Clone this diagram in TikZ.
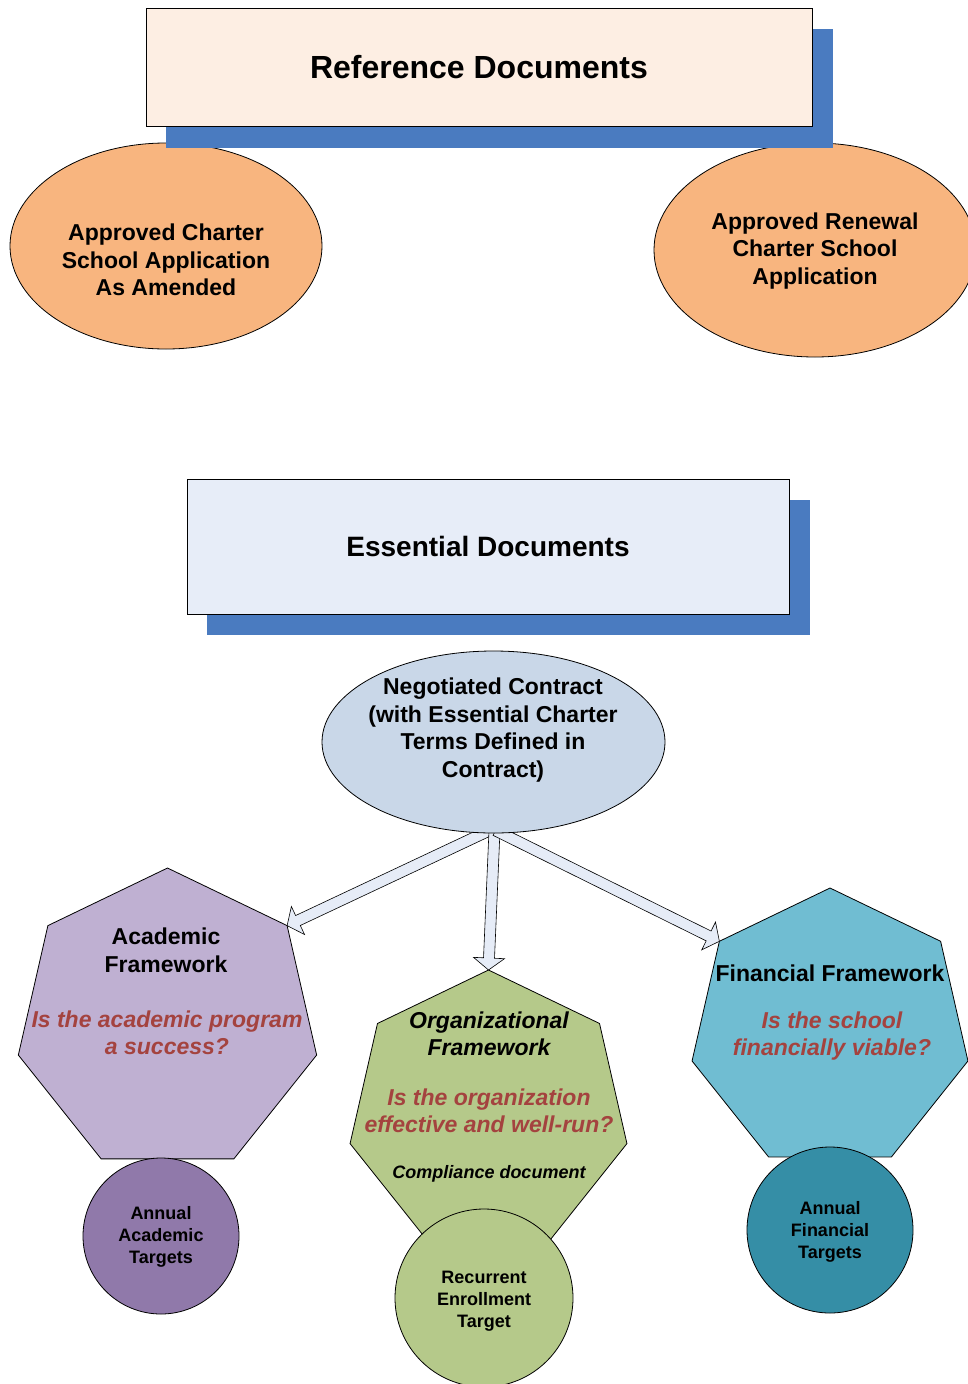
\documentclass[tikz,border=0pt]{standalone}
\usepackage{fontspec}
\setmainfont{Liberation Sans}
\usetikzlibrary{calc,shapes.geometric}
\definecolor{peach}{HTML}{FDEEE3}
\definecolor{shadowblue}{HTML}{4A7BC0}
\definecolor{orangefill}{HTML}{F8B57F}
\definecolor{essfill}{HTML}{E7EDF8}
\definecolor{contractfill}{HTML}{C9D7E8}
\definecolor{arrowfill}{HTML}{E6ECF7}
\definecolor{purplehept}{HTML}{BFB0D2}
\definecolor{purplecirc}{HTML}{9079AA}
\definecolor{greenfill}{HTML}{B5C98A}
\definecolor{cyanhept}{HTML}{70BDD2}
\definecolor{tealcirc}{HTML}{358EA6}
\definecolor{qred}{HTML}{A4433F}
\pgfdeclarelayer{back}
\pgfdeclarelayer{front}
\pgfsetlayers{back,main,front}
\newcommand\fatarrow[3]{%
  \coordinate (#3h) at ($(#2)!12pt!(#1)$);
  \draw[fatarrowstyle] ($(#1)!5.5pt!90:(#2)$) -- ($(#3h)!5.5pt!90:(#2)$) -- ($(#3h)!15.5pt!90:(#2)$) -- (#2) -- ($(#3h)!15.5pt!-90:(#2)$) -- ($(#3h)!5.5pt!-90:(#2)$) -- ($(#1)!5.5pt!-90:(#2)$) -- cycle;
}
\tikzset{
  outline/.style={draw=black, line width=0.8pt},
  titlebox/.style={outline, rectangle, inner sep=0pt, font=\bfseries},
  oval/.style={outline, ellipse, inner sep=0pt},
  hept/.style={outline, regular polygon, regular polygon sides=7, inner sep=0pt, outer sep=0pt},
  disc/.style={outline, circle, inner sep=0pt, outer sep=0pt},
  bigtxt/.style={align=center, inner sep=0pt, font=\fontsize{23pt}{27.7pt}\selectfont\bfseries},
  redtxt/.style={align=center, inner sep=0pt, text=qred, font=\fontsize{23pt}{27.5pt}\selectfont\bfseries\itshape},
  smalltxt/.style={align=center, inner sep=0pt, font=\fontsize{18pt}{22pt}\selectfont\bfseries},
  fatarrowstyle/.style={draw=black, line width=0.6pt, fill=arrowfill, line join=miter},
}
\begin{document}
\begin{tikzpicture}[x=1pt, y=-1pt]
\useasboundingbox (0,0) rectangle (967,1384);

% ---------- Reference documents ----------
\node[titlebox, fill=peach, minimum width=666pt, minimum height=118pt, font=\fontsize{32pt}{38pt}\selectfont\bfseries] (ref) at (479,67) {Reference Documents};
\begin{pgfonlayer}{back}
  \node[oval, fill=orangefill, minimum width=312pt, minimum height=206pt] (app) at (166,246) {};
  \node[oval, fill=orangefill, minimum width=322pt, minimum height=214pt] (renew) at (815,250) {};
  \fill[shadowblue] ($(ref.south west)+(20,22)$) rectangle ($(ref.north east)+(21,21)$);
\end{pgfonlayer}
\node[bigtxt] (appT) at (166,260) {Approved Charter\\School Application\\As Amended};
\node[bigtxt] (renewT) at (815,251) {Approved Renewal\\Charter School\\Application};

% ---------- Essential documents ----------
\node[titlebox, fill=essfill, minimum width=602pt, minimum height=135pt, font=\fontsize{28pt}{34pt}\selectfont\bfseries] (ess) at (488,546.5) {Essential Documents};
\begin{pgfonlayer}{back}
  \fill[shadowblue] ($(ess.south west)+(20,21)$) rectangle ($(ess.north east)+(21,21)$);
\end{pgfonlayer}

\begin{pgfonlayer}{front}
  \node[oval, fill=contractfill, minimum width=343pt, minimum height=182pt] (contract) at (493.5,742) {};
  \node[bigtxt] (contractT) at (493,730) {Negotiated Contract\\(with Essential Charter\\Terms Defined in\\Contract)};
\end{pgfonlayer}

% ---------- Frameworks ----------
\node[hept, fill=purplehept, minimum size=306pt] (acad) at (167.5,1021) {};
\node[hept, fill=greenfill, minimum size=284pt] (org) at (488.5,1112) {};
\node[hept, fill=cyanhept, minimum size=283pt] (fin) at (830,1029.5) {};

\node[bigtxt] (acadT) at (166,950) {Academic\\Framework};
\node[redtxt] (acadQ) at (167,1033) {Is the academic program\\a success?};

\node[bigtxt, font=\fontsize{23pt}{27pt}\selectfont\bfseries\itshape] (orgT) at (489,1034) {Organizational\\Framework};
\node[redtxt] (orgQ) at (489,1111) {Is the organization\\effective and well-run?};
\node[smalltxt, font=\fontsize{18pt}{22pt}\selectfont\bfseries\itshape] (orgC) at (489,1174) {Compliance document};

\node[bigtxt] (finT) at (830,973) {Financial Framework};
\node[redtxt] (finQ) at (832,1036) {Is the school\\financially viable?};

% ---------- Targets ----------
\node[disc, fill=purplecirc, minimum size=156pt] (acadC) at (161,1236) {};
\node[disc, fill=greenfill, minimum size=178pt] (orgCirc) at (484,1298) {};
\node[disc, fill=tealcirc, minimum size=166pt] (finC) at (830,1230) {};
\node[smalltxt] (acadCT) at (161,1237) {Annual\\Academic\\Targets};
\node[smalltxt] (orgCT) at (484,1301) {Recurrent\\Enrollment\\Target};
\node[smalltxt] (finCT) at (830,1232) {Annual\\Financial\\Targets};

% ---------- Arrows ----------
\coordinate (s1) at ($(contract.south)+(-4,-3)$);
\coordinate (s2) at ($(contract.south)+(1,-3)$);
\coordinate (s3) at ($(contract.south)+(2,-3)$);
\fatarrow{s1}{acad.corner 7}{a1}
\fatarrow{s2}{org.corner 1}{a2}
\fatarrow{s3}{fin.corner 2}{a3}
\end{tikzpicture}
\end{document}
